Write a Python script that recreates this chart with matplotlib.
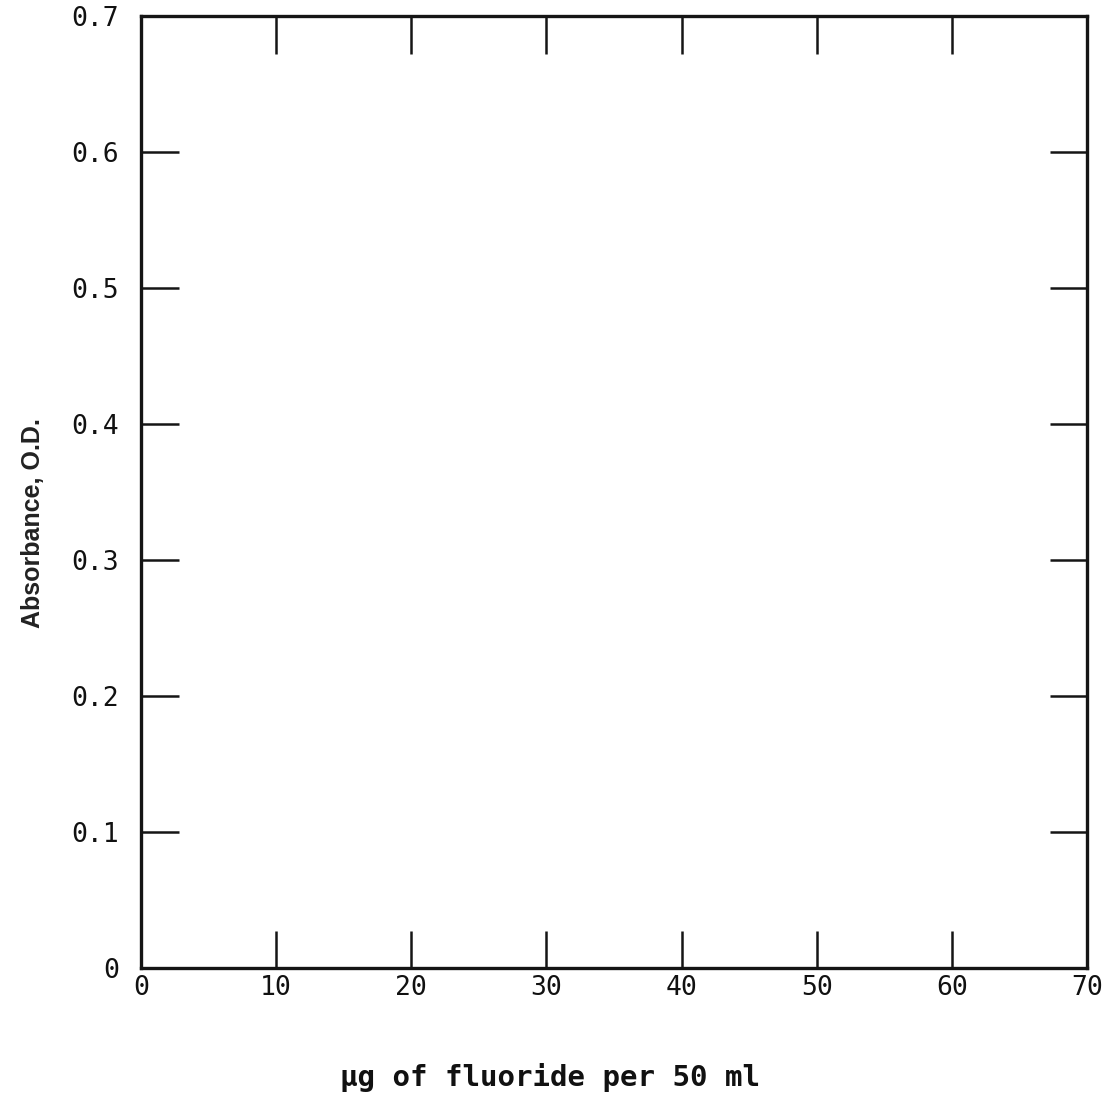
import matplotlib
matplotlib.use("Agg")
import matplotlib.pyplot as plt

# Axis data (the chart has no plotted series)
x_ticks = [0, 10, 20, 30, 40, 50, 60, 70]
x_tick_labels = ["0", "10", "20", "30", "40", "50", "60", "70"]
y_ticks = [0, 0.1, 0.2, 0.3, 0.4, 0.5, 0.6, 0.7]
y_tick_labels = ["0", "0.1", "0.2", "0.3", "0.4", "0.5", "0.6", "0.7"]
x_label = "µg of fluoride per 50 ml"
y_label = "Absorbance, O.D."

mono = ["DejaVu Sans Mono"]

fig = plt.figure(figsize=(11.18, 11.03), dpi=100)
ax = fig.add_axes([141 / 1118, 1 - 968 / 1103, (1087 - 141) / 1118, (968 - 16) / 1103])

ax.set_xlim(x_ticks[0], x_ticks[-1])
ax.set_ylim(y_ticks[0], y_ticks[-1])
ax.set_xticks(x_ticks)
ax.set_xticklabels(x_tick_labels, family=mono, fontsize=19, color="#111111")
ax.set_yticks(y_ticks)
ax.set_yticklabels(y_tick_labels, family=mono, fontsize=19, color="#111111")

for s in ax.spines.values():
    s.set_linewidth(2.4)
    s.set_color("#151515")

ax.tick_params(axis="both", direction="in", length=27, width=1.8, color="#151515",
               top=True, right=True, labeltop=False, labelright=False)
ax.tick_params(axis="x", pad=5)
ax.tick_params(axis="y", pad=16)

fig.text(33 / 1118, 1 - 523 / 1103, y_label, rotation=90, ha="center", va="center",
         fontsize=18, family=["Liberation Sans", "DejaVu Sans"], fontweight="bold",
         color="#222222")
fig.text(550 / 1118, 1 - 1077 / 1103, x_label, ha="center", va="center",
         fontsize=21, family=mono, fontweight="bold", color="#111111")

fig.savefig("out.png", dpi=100)
